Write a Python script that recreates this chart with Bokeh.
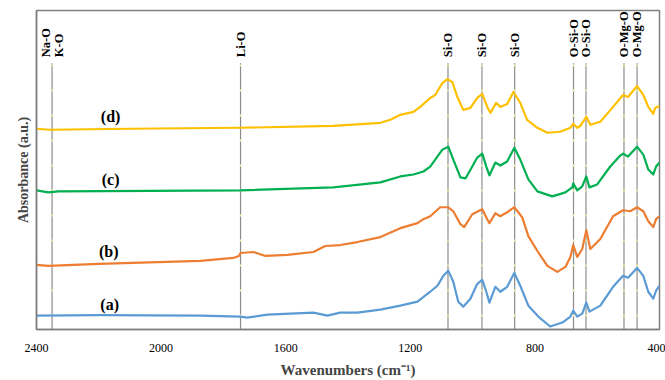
from bokeh.plotting import figure
from bokeh.models import Range1d, FixedTicker
from bokeh.core.properties import value
from bokeh.embed import file_html
from bokeh.resources import INLINE
import math

# ---- data (wavenumber cm-1, absorbance a.u.) ----
wn_a = [2400, 2200, 1874, 1745, 1723, 1659, 1511, 1466, 1425, 1370, 1296, 1232, 1177, 1136, 1113, 1094, 1078,
        1062, 1046, 1030, 1007, 985, 969, 956, 946, 927, 911, 889, 866, 847, 821, 789, 751, 712, 686, 677,
        664, 648, 635, 625, 590, 549, 517, 501, 472, 452, 436, 420, 411, 400]
abs_a = [0.14, 0.145, 0.14, 0.13, 0.12, 0.15, 0.17, 0.14, 0.17, 0.17, 0.20, 0.24, 0.28, 0.38, 0.44, 0.54, 0.59,
         0.48, 0.28, 0.23, 0.31, 0.46, 0.50, 0.38, 0.27, 0.43, 0.38, 0.43, 0.57, 0.44, 0.24, 0.13, 0.03, 0.07, 0.13, 0.19,
         0.13, 0.16, 0.27, 0.18, 0.24, 0.43, 0.54, 0.52, 0.62, 0.54, 0.38, 0.31, 0.39, 0.44]

wn_b = [2400, 2362, 2200, 1874, 1768, 1750, 1745, 1704, 1665, 1595, 1511, 1473, 1425, 1370, 1296, 1232, 1177, 1158,
        1136, 1104, 1078, 1062, 1039, 1027, 1001, 969, 953, 946, 927, 911, 889, 866, 841, 821, 792, 760, 728,
        702, 686, 677, 664, 648, 635, 622, 590, 549, 517, 494, 472, 452, 436, 420, 411, 400]
abs_b = [0.65, 0.64, 0.66, 0.69, 0.72, 0.74, 0.77, 0.78, 0.74, 0.75, 0.78, 0.84, 0.85, 0.88, 0.93, 1.02, 1.07, 1.11,
         1.14, 1.23, 1.23, 1.19, 1.06, 1.03, 1.16, 1.21, 1.11, 1.07, 1.17, 1.14, 1.18, 1.23, 1.13, 0.94, 0.79, 0.64, 0.58,
         0.63, 0.73, 0.85, 0.73, 0.81, 1.00, 0.81, 0.91, 1.14, 1.20, 1.19, 1.23, 1.19, 1.09, 1.03, 1.11, 1.14]

wn_c = [2400, 2362, 2330, 1745, 1447, 1296, 1232, 1190, 1158, 1136, 1120, 1097, 1078, 1062, 1039, 1023, 1001,
        985, 969, 956, 946, 927, 911, 889, 866, 847, 821, 792, 744, 702, 680, 677, 664, 648, 635, 625, 600,
        558, 526, 517, 501, 472, 452, 436, 420, 411, 400]
abs_c = [1.40, 1.38, 1.39, 1.40, 1.43, 1.48, 1.54, 1.56, 1.59, 1.64, 1.71, 1.81, 1.84, 1.71, 1.53, 1.52, 1.64,
         1.73, 1.77, 1.64, 1.55, 1.68, 1.65, 1.69, 1.83, 1.71, 1.51, 1.39, 1.34, 1.38, 1.43, 1.47, 1.40, 1.44, 1.54, 1.43, 1.46,
         1.64, 1.75, 1.77, 1.74, 1.84, 1.76, 1.61, 1.56, 1.64, 1.68]

wn_d = [2400, 2360, 2100, 1745, 1447, 1296, 1264, 1232, 1190, 1168, 1136, 1120, 1097, 1081, 1065, 1049, 1030,
        1007, 985, 969, 953, 943, 924, 911, 889, 869, 847, 825, 792, 760, 719, 686, 677, 664, 654, 635, 622,
        590, 549, 517, 501, 472, 452, 436, 420, 414, 400]
abs_d = [2.02, 2.01, 2.02, 2.03, 2.05, 2.08, 2.11, 2.16, 2.19, 2.24, 2.33, 2.36, 2.48, 2.52, 2.49, 2.34, 2.21,
         2.23, 2.33, 2.37, 2.24, 2.18, 2.28, 2.24, 2.27, 2.39, 2.28, 2.11, 2.03, 1.98, 1.99, 2.03, 2.07, 2.03, 2.05, 2.14, 2.06,
         2.09, 2.24, 2.36, 2.34, 2.45, 2.36, 2.24, 2.17, 2.23, 2.25]

series_names = ["(a)", "(b)", "(c)", "(d)"]
series_colors = ["#5B9BD5", "#ED7D31", "#00B050", "#FFC000"]
series_label_wn = [2165, 2168, 2162, 2162]
series_label_abs = [0.25, 0.78, 1.51, 2.14]

band_wn = [2350, 1745, 1079, 970, 865, 676, 636, 514, 472]
band_top = 2.68
band_labels = ["Na-O", "K-O", "Li-O", "Si-O", "Si-O", "Si-O", "O-Si-O", "O-Si-O", "O-Mg-O", "O-Mg-O"]
band_label_wn = [2371, 2327, 1745, 1079, 970, 865, 676, 636, 514, 472]
band_label_abs = 2.74

x_ticks = [2400, 2000, 1600, 1200, 800, 400]

SERIF = "Liberation Serif"

p = figure(width=665, height=380, output_backend="svg", toolbar_location=None,
           x_range=Range1d(2400, 400), y_range=Range1d(0, 3.21),
           min_border_left=36, min_border_right=6, min_border_top=10, min_border_bottom=49)
p.background_fill_color = "white"
p.border_fill_color = "white"
p.outline_line_color = "#7f7f7f"
p.outline_line_width = 1.5
p.xgrid.visible = False
p.ygrid.visible = False

# band reference lines
p.segment(x0=band_wn, x1=band_wn, y0=[0] * len(band_wn), y1=[band_top] * len(band_wn),
          line_color="#8c8c8c", line_width=1.2)
p.segment(x0=band_wn, x1=band_wn, y0=[0] * len(band_wn), y1=[band_top] * len(band_wn),
          line_color="#ffff99", line_width=1.2, line_dash="2 23", line_dash_offset=12)

for wn, ab, col in zip([wn_a, wn_b, wn_c, wn_d], [abs_a, abs_b, abs_c, abs_d], series_colors):
    p.line(wn, ab, line_color=col, line_width=2.2, line_join="round")

p.text(x=series_label_wn, y=series_label_abs, text=series_names,
       text_font=value(SERIF), text_font_style="bold", text_font_size="16px",
       text_align="center", text_baseline="middle", text_color="black")

p.text(x=band_label_wn, y=[band_label_abs] * len(band_label_wn), text=band_labels,
       angle=math.pi / 2, text_font=value(SERIF), text_font_style="bold", text_font_size="12.5px",
       text_align="left", text_baseline="middle", text_color="black")

xa = p.xaxis[0]
xa.ticker = FixedTicker(ticks=x_ticks)
xa.axis_label = "Wavenumbers (cm\u207b\u00b9)"
xa.axis_label_text_font = SERIF
xa.axis_label_text_font_style = "bold"
xa.axis_label_text_font_size = "15px"
xa.axis_label_standoff = 7
xa.major_label_text_font = SERIF
xa.major_label_text_font_size = "12px"
xa.major_label_text_color = "black"
xa.major_label_standoff = 8
xa.major_tick_line_color = None
xa.minor_tick_line_color = None
xa.axis_line_color = "#7f7f7f"
xa.axis_line_width = 1.5

ya = p.yaxis[0]
ya.axis_label = "Absorbance (a.u.)"
ya.axis_label_text_font = SERIF
ya.axis_label_text_font_style = "bold"
ya.axis_label_text_font_size = "14px"
ya.axis_label_standoff = 6
ya.major_label_text_font_size = "0px"
ya.major_label_text_color = None
ya.major_tick_line_color = None
ya.minor_tick_line_color = None
ya.axis_line_color = "#7f7f7f"
ya.axis_line_width = 1.5
ya.ticker = FixedTicker(ticks=[])

open("out.html", "w").write(file_html(p, INLINE))
